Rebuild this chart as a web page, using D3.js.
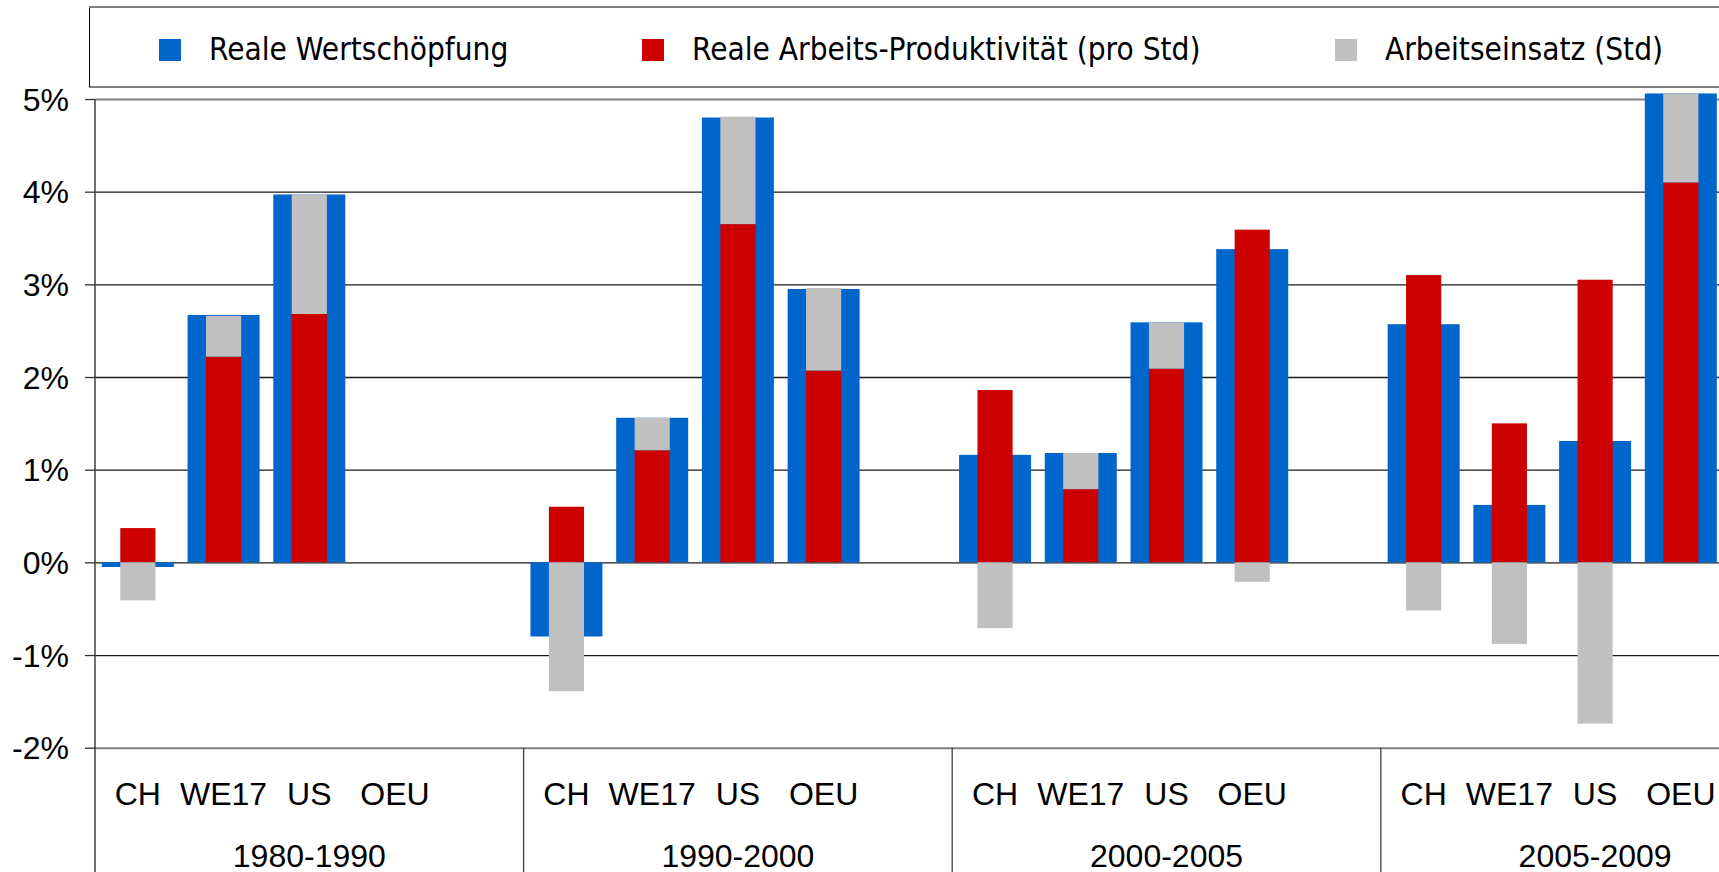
<!DOCTYPE html>
<html>
<head>
<meta charset="utf-8">
<script src="https://cdn.jsdelivr.net/npm/d3@7/dist/d3.min.js"></script>
<style>
  html, body { margin: 0; padding: 0; background: #fff; overflow: hidden; }
  svg { display: block; }
</style>
</head>
<body>
<svg id="chart" width="1719" height="872"></svg>
<script>
// ---- Data ----
const groups = ["1980-1990", "1990-2000", "2000-2005", "2005-2009"];
const countries = ["CH", "WE17", "US", "OEU"];
const seriesNames = ["Reale Wertschöpfung", "Reale Arbeits-Produktivität (pro Std)", "Arbeitseinsatz (Std)"];
const seriesColors = ["#0066CC", "#CC0000", "#C0C0C0"];
// Reale Wertschöpfung (rows = periods, cols = countries)
const wertschoepfung = [
  [-0.05, 2.67, 3.97, null],
  [-0.80, 1.56, 4.80, 2.95],
  [1.16, 1.18, 2.59, 3.38],
  [2.57, 0.62, 1.31, 5.06]
];
// Reale Arbeits-Produktivität (pro Std)
const produktivitaet = [
  [0.37, 2.22, 2.68, null],
  [0.60, 1.21, 3.65, 2.07],
  [1.86, 0.79, 2.09, 3.59],
  [3.10, 1.50, 3.05, 4.10]
];
// Arbeitseinsatz (Std)
const arbeitseinsatz = [
  [-0.41, 0.44, 1.29, null],
  [-1.39, 0.35, 1.16, 0.89],
  [-0.71, 0.39, 0.50, -0.21],
  [-0.52, -0.88, -1.74, 0.96]
];
const yTicks = [-2, -1, 0, 1, 2, 3, 4, 5];

// ---- Layout ----
const svg = d3.select("#chart");
const plotLeft = 95, groupW = 428.6;
const plotRight = plotLeft + groups.length * groupW;
const y = d3.scaleLinear().domain([-2, 5]).range([747.7, 99]);
const x0 = d3.scaleBand().domain(groups).range([plotLeft, plotRight]).padding(0);
const x1 = d3.scaleBand().domain(countries).range([0, x0.bandwidth() * 4 / 5]).padding(0);
const outerW = x1.bandwidth() * 0.84;
const innerW = x1.bandwidth() * 0.41;

const axisFont = "'Liberation Sans', Arial, sans-serif";
const axisSize = 32;
const legendFont = "'DejaVu Sans Condensed', 'DejaVu Sans', sans-serif";

// Legend
const lg = svg.append("g");
lg.append("rect").attr("x", 89.5).attr("y", 7).attr("width", 1800).attr("height", 80)
  .attr("fill", "#fff").attr("stroke", "#000").attr("stroke-width", 1);
lg.append("line").attr("x1", 89).attr("x2", 1719).attr("y1", 7).attr("y2", 7)
  .attr("stroke", "#808080").attr("stroke-width", 2);
const legendX = [159, 642, 1335];
seriesNames.forEach((name, i) => {
  lg.append("rect").attr("x", legendX[i]).attr("y", 39).attr("width", 22).attr("height", 22)
    .attr("fill", seriesColors[i]);
  lg.append("text").attr("x", legendX[i] + 50).attr("y", 60)
    .attr("font-family", legendFont).attr("font-stretch", "condensed")
    .attr("font-size", 31.3).attr("fill", "#000").text(name);
});

// Gridlines
const grid = svg.append("g").attr("transform", `translate(${plotLeft},0)`)
  .call(d3.axisLeft(y).tickValues(yTicks).tickSize(-(plotRight - plotLeft)).tickFormat(""));
grid.select(".domain").remove();
grid.selectAll(".tick line")
  .attr("stroke", d => (d === 5 || d === -2) ? "#808080" : "#1a1a1a")
  .attr("stroke-width", d => (d === 5 || d === -2) ? 2 : 1.3);

// Y axis ticks + labels
const yAxis = svg.append("g").attr("transform", `translate(${plotLeft},0)`)
  .call(d3.axisLeft(y).tickValues(yTicks).tickSize(10).tickPadding(16).tickFormat(d => d + "%"));
yAxis.select(".domain").remove();
yAxis.selectAll(".tick line").attr("stroke", "#333").attr("stroke-width", 1.3);
yAxis.selectAll(".tick text").attr("font-family", axisFont).attr("font-size", axisSize)
  .attr("fill", "#000").attr("dy", "0.35em");

// Bars
const stack = d3.stack().keys(["prod", "arb"]).offset(d3.stackOffsetDiverging);
groups.forEach((g, gi) => {
  const rows = countries.map((c, ci) => ({
    c, ws: wertschoepfung[gi][ci], prod: produktivitaet[gi][ci], arb: arbeitseinsatz[gi][ci]
  })).filter(r => r.ws !== null);
  const gg = svg.append("g").attr("transform", `translate(${x0(g)},0)`);
  // outer blue bar
  gg.selectAll(".ws").data(rows).join("rect")
    .attr("x", d => x1(d.c) + (x1.bandwidth() - outerW) / 2)
    .attr("width", outerW)
    .attr("y", d => y(Math.max(0, d.ws)))
    .attr("height", d => Math.abs(y(d.ws) - y(0)))
    .attr("fill", seriesColors[0]);
  // inner stacked bars
  const stacked = stack(rows);
  stacked.forEach((layer, li) => {
    gg.selectAll(".s" + li).data(layer).join("rect")
      .attr("x", d => x1(d.data.c) + (x1.bandwidth() - innerW) / 2)
      .attr("width", innerW)
      .attr("y", d => y(d[1]))
      .attr("height", d => y(d[0]) - y(d[1]))
      .attr("fill", seriesColors[li + 1]);
  });
});

// Y axis line (extends to bottom)
svg.append("line").attr("x1", plotLeft).attr("x2", plotLeft).attr("y1", 99).attr("y2", 872)
  .attr("stroke", "#404040").attr("stroke-width", 1.5);
// Group separators
groups.slice(1).forEach(g => {
  svg.append("line").attr("x1", x0(g)).attr("x2", x0(g)).attr("y1", y(-2)).attr("y2", 872)
    .attr("stroke", "#404040").attr("stroke-width", 1.3);
});

// Category labels
groups.forEach(g => {
  countries.forEach(c => {
    svg.append("text").attr("x", x0(g) + x1(c) + x1.bandwidth() / 2).attr("y", 805)
      .attr("text-anchor", "middle").attr("font-family", axisFont).attr("font-size", axisSize)
      .attr("fill", "#000").text(c);
  });
  svg.append("text").attr("x", x0(g) + x0.bandwidth() / 2).attr("y", 867)
    .attr("text-anchor", "middle").attr("font-family", axisFont).attr("font-size", axisSize)
    .attr("fill", "#000").text(g);
});
</script>
</body>
</html>
